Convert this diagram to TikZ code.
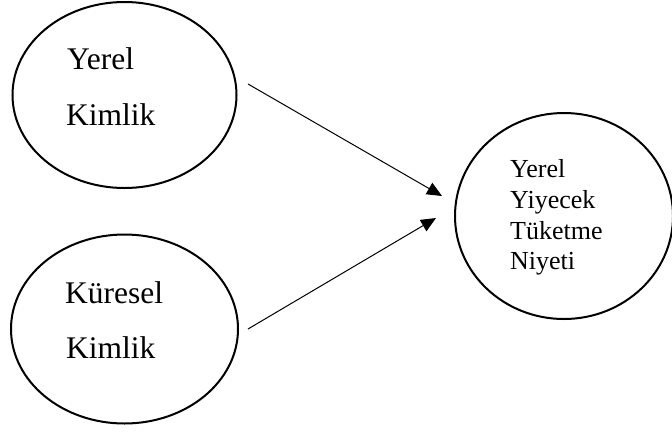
\documentclass[tikz,border=0pt]{standalone}
\usepackage{fontspec}
\setmainfont{Liberation Serif}
\usetikzlibrary{arrows.meta,shapes.geometric}
\tikzset{
  oval/.style={draw, ellipse, line width=2pt, inner sep=0pt},
  bigtxt/.style={anchor=base west, inner sep=0pt, font=\fontsize{31.5}{34}\selectfont},
  smalltxt/.style={anchor=base west, inner sep=0pt, font=\fontsize{26}{30}\selectfont},
  link/.style={line width=1pt, -{Triangle[length=15pt,width=13pt]}}
}
\begin{document}
\begin{tikzpicture}[x=1pt,y=-1pt]
\useasboundingbox (0,0) rectangle (672,432);
\node[oval, minimum width=224pt, minimum height=186pt] (yk) at (124.5,95) {};
\node[oval, minimum width=227pt, minimum height=189pt] (kk) at (124.5,329) {};
\node[oval, minimum width=218pt, minimum height=206pt] (ny) at (564,216) {};
\node[bigtxt] (t1) at (67,69) {Yerel};
\node[bigtxt] (t2) at (66,125) {Kimlik};
\node[bigtxt] (t3) at (65,303) {Küresel};
\node[bigtxt] (t4) at (66,358) {Kimlik};
\node[smalltxt] (r1) at (510,177) {Yerel};
\node[smalltxt] (r2) at (510,208) {Yiyecek};
\node[smalltxt] (r3) at (510,239) {Tüketme};
\node[smalltxt] (r4) at (510,269) {Niyeti};
\coordinate (a1) at (248,84);
\coordinate (b1) at (442,196);
\coordinate (a2) at (248,329);
\coordinate (b2) at (436,218);
\draw[link] (a1) -- (b1);
\draw[link] (a2) -- (b2);
\end{tikzpicture}
\end{document}
